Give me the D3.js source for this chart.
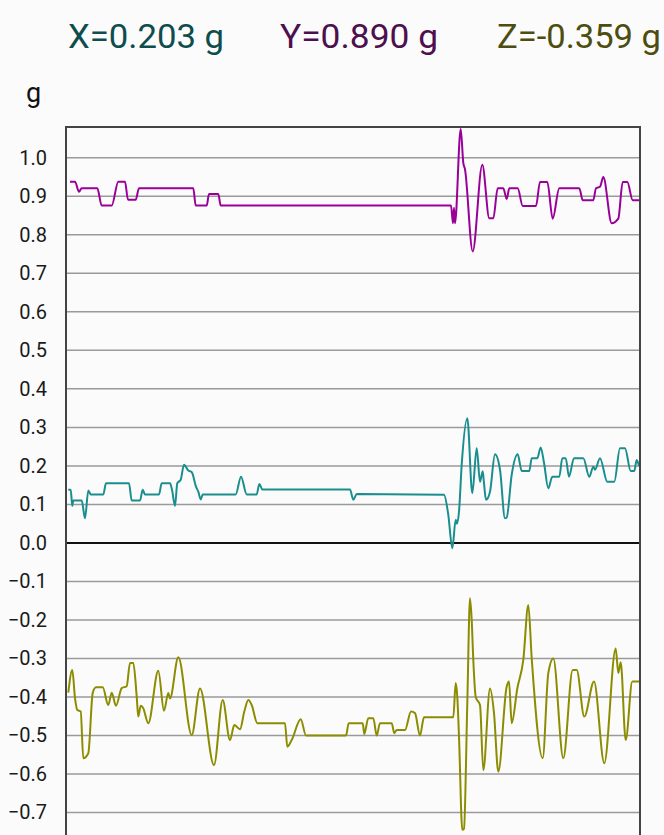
<!DOCTYPE html>
<html>
<head>
<meta charset="utf-8">
<script src="https://cdn.jsdelivr.net/npm/d3@7"></script>
<style>
  html, body { margin: 0; padding: 0; background: #fbfbfb; overflow: hidden; }
  svg { display: block; }
</style>
</head>
<body>
<div id="chart"></div>
<script>
// accelerometer trace: three axes in g, plotted against sample index

const axisNames = ["X", "Y", "Z"];
const currentValues = [0.203, 0.890, -0.359];
const lineColors = ["#1a8e8e", "#990099", "#8c8c00"];
const headerColors = ["#0f4d4d", "#4d0f4d", "#4d4d0f"];
const yTicks = [1.0, 0.9, 0.8, 0.7, 0.6, 0.5, 0.4, 0.3, 0.2, 0.1, 0.0, -0.1, -0.2, -0.3, -0.4, -0.5, -0.6, -0.7];
const unitLabel = "g";

// [sample, value] pairs
const seriesX = [
  [2.3, 0.138], [4.7, 0.138], [6.3, 0.096], [7.3, 0.11], [15.7, 0.11], [19, 0.064], [22.3, 0.136],
  [24.7, 0.126], [37.3, 0.126], [40, 0.155], [63, 0.155], [65.7, 0.11], [74, 0.11], [76.7, 0.138],
  [79, 0.126], [93, 0.126], [95.7, 0.155], [104, 0.155], [106, 0.138], [109, 0.096], [111.3, 0.155],
  [114.7, 0.164], [118, 0.203], [122.3, 0.188], [125.7, 0.184], [130, 0.146], [132.3, 0.133],
  [134.7, 0.113], [136.7, 0.126], [169.7, 0.126], [175, 0.172], [180.7, 0.126], [190.7, 0.126],
  [193.3, 0.153], [196.3, 0.139], [284, 0.139], [287.3, 0.112], [290.7, 0.127], [378, 0.125],
  [382.3, 0.073], [386.3, -0.014], [389.7, 0.06], [391, 0.05], [393, 0.081], [395.7, 0.203],
  [401.3, 0.324], [406.3, 0.129], [410.7, 0.246], [414, 0.159], [416.7, 0.186], [418, 0.155],
  [420, 0.112], [424, 0.133], [429, 0.23], [434, 0.19], [439, 0.064], [440.7, 0.066], [445.7, 0.177],
  [451.7, 0.23], [455.7, 0.187], [463.3, 0.187], [465.7, 0.22], [471.3, 0.22], [474.7, 0.248],
  [478, 0.208], [482.3, 0.142], [486.3, 0.172], [493.3, 0.172], [496.3, 0.22], [499.7, 0.22],
  [503, 0.172], [508, 0.22], [517.3, 0.22], [523.3, 0.172], [527.3, 0.198], [529, 0.19], [534, 0.22],
  [541.3, 0.159], [548.3, 0.159], [554, 0.246], [559, 0.246], [564.7, 0.187], [568.3, 0.187],
  [570.7, 0.215], [573, 0.2]
];

const seriesY = [
  [4, 0.938], [9, 0.938], [13, 0.912], [15.7, 0.921], [31.3, 0.921], [35.7, 0.876], [45.7, 0.876],
  [52.3, 0.938], [59, 0.938], [62, 0.891], [69.7, 0.891], [73, 0.921], [127.3, 0.921], [129.7, 0.876],
  [140.7, 0.876], [143, 0.906], [152.3, 0.906], [154.7, 0.876], [385, 0.876], [387, 0.83], [388, 0.87],
  [389, 0.83], [394.7, 1.075], [397.3, 0.987], [399, 0.97], [406.7, 0.757], [416.3, 0.982],
  [423.3, 0.843], [427.3, 0.843], [431.7, 0.921], [437.3, 0.921], [440.7, 0.893], [443.3, 0.921],
  [451.7, 0.921], [456.7, 0.875], [470, 0.875], [474, 0.937], [481.3, 0.937], [486.7, 0.842],
  [493.3, 0.921], [513.3, 0.921], [516.7, 0.89], [527.3, 0.89], [530, 0.921], [534, 0.925],
  [537.3, 0.95], [545.7, 0.83], [552.3, 0.842], [556.7, 0.937], [561.3, 0.937], [566.7, 0.89], [573, 0.89]
];

const seriesZ = [
  [2.3, -0.389], [6.3, -0.33], [9, -0.403], [11.3, -0.434], [14.7, -0.438], [17.3, -0.559],
  [22.3, -0.546], [26.7, -0.39], [30, -0.375], [36.7, -0.375], [42.3, -0.421], [45.7, -0.389],
  [50, -0.423], [55.7, -0.377], [60.7, -0.372], [64, -0.312], [67.3, -0.312], [70.7, -0.399],
  [72.3, -0.451], [74.7, -0.423], [77, -0.428], [82.3, -0.468], [92.3, -0.332], [98, -0.436],
  [102.3, -0.39], [104, -0.404], [112.3, -0.297], [125.7, -0.499], [134, -0.378], [148, -0.577],
  [156.7, -0.408], [164, -0.512], [168.3, -0.473], [174, -0.484], [178.3, -0.438], [182.3, -0.408],
  [185.7, -0.421], [191.3, -0.468], [219, -0.468], [221.3, -0.529], [225.7, -0.512], [234.7, -0.458],
  [240, -0.5], [280, -0.5], [282.7, -0.468], [296.7, -0.468], [298.3, -0.496], [302.3, -0.455],
  [307.3, -0.455], [310.7, -0.5], [314, -0.468], [325.7, -0.468], [328.3, -0.494], [330.7, -0.486],
  [339, -0.486], [345, -0.438], [349, -0.442], [354, -0.5], [358, -0.453], [387.3, -0.453],
  [389.7, -0.364], [391.3, -0.4], [393, -0.503], [396.3, -0.745], [398, -0.742], [401.3, -0.416],
  [404, -0.144], [405.7, -0.2], [407.3, -0.304], [409.7, -0.4], [414, -0.421], [417.3, -0.59],
  [424, -0.378], [428, -0.442], [432.3, -0.594], [440.7, -0.373], [443, -0.36], [445.7, -0.468],
  [451.3, -0.378], [457.3, -0.304], [462.3, -0.161], [465.7, -0.299], [476.7, -0.559], [482.3, -0.338],
  [487.3, -0.3], [497.3, -0.559], [506.7, -0.33], [510.7, -0.33], [518.3, -0.451], [528, -0.36],
  [538.3, -0.572], [549.7, -0.274], [552.3, -0.338], [554.7, -0.31], [559.7, -0.512], [566.3, -0.36],
  [574, -0.36]
];

const allSeries = [seriesX, seriesY, seriesZ];
const sampleCount = 574;

const W = 664, H = 835;
const margin = { top: 127, right: 24, left: 66 };
const plotBottom = 851; // frame runs off the bottom of the screen

const svg = d3.select("#chart")
  .append("svg")
  .attr("width", W)
  .attr("height", H);

svg.append("rect").attr("width", W).attr("height", H).attr("fill", "#fbfbfb");

const x = d3.scaleLinear().domain([0, sampleCount]).range([margin.left, W - margin.right]);
const y = d3.scaleLinear().domain([-0.8, 1.08]).range([plotBottom, margin.top]);

// header readouts
const headerX = [68, 280, 497];
const headerW = [156, 158, 164];
svg.selectAll("text.readout")
  .data(axisNames)
  .enter()
  .append("text")
  .attr("class", "readout")
  .attr("x", (d, i) => headerX[i])
  .attr("y", 48)
  .attr("textLength", (d, i) => headerW[i])
  .attr("lengthAdjust", "spacingAndGlyphs")
  .style("font-family", "Roboto, sans-serif")
  .style("font-size", "34px")
  .attr("fill", (d, i) => headerColors[i])
  .text((d, i) => `${d}=${currentValues[i].toFixed(3)} g`);

// unit label
svg.append("text")
  .attr("x", 26)
  .attr("y", 102)
  .style("font-family", "Roboto, sans-serif")
  .style("font-size", "27px")
  .attr("fill", "#111")
  .text(unitLabel);

// gridlines
svg.append("g")
  .selectAll("line")
  .data(yTicks)
  .enter()
  .append("line")
  .attr("x1", margin.left + 1)
  .attr("x2", W - margin.right - 1)
  .attr("y1", (d) => y(d))
  .attr("y2", (d) => y(d))
  .attr("stroke", (d) => (d === 0 ? "#111" : "#9a9a9a"))
  .attr("stroke-width", (d) => (d === 0 ? 2 : 1.5));

// y tick labels
svg.append("g")
  .selectAll("text")
  .data(yTicks)
  .enter()
  .append("text")
  .attr("x", 47)
  .attr("y", (d) => y(d))
  .attr("dy", "0.35em")
  .attr("text-anchor", "end")
  .style("font-family", "Roboto, sans-serif")
  .style("font-size", "20px")
  .attr("fill", "#1a1a1a")
  .text((d) => d3.format(".1f")(d));

// traces
const line = d3.line()
  .x((d) => x(d[0]))
  .y((d) => y(d[1]))
  .curve(d3.curveMonotoneX);

svg.append("g")
  .selectAll("path")
  .data(allSeries)
  .enter()
  .append("path")
  .attr("d", line)
  .attr("fill", "none")
  .attr("stroke", (d, i) => lineColors[i])
  .attr("stroke-width", 2)
  .attr("stroke-linejoin", "round");

// frame (top, left, right)
svg.append("path")
  .attr("d", `M${x(0)},${plotBottom}V${y(1.08)}H${x(sampleCount)}V${plotBottom}`)
  .attr("fill", "none")
  .attr("stroke", "#444")
  .attr("stroke-width", 2);
</script>
</body>
</html>
